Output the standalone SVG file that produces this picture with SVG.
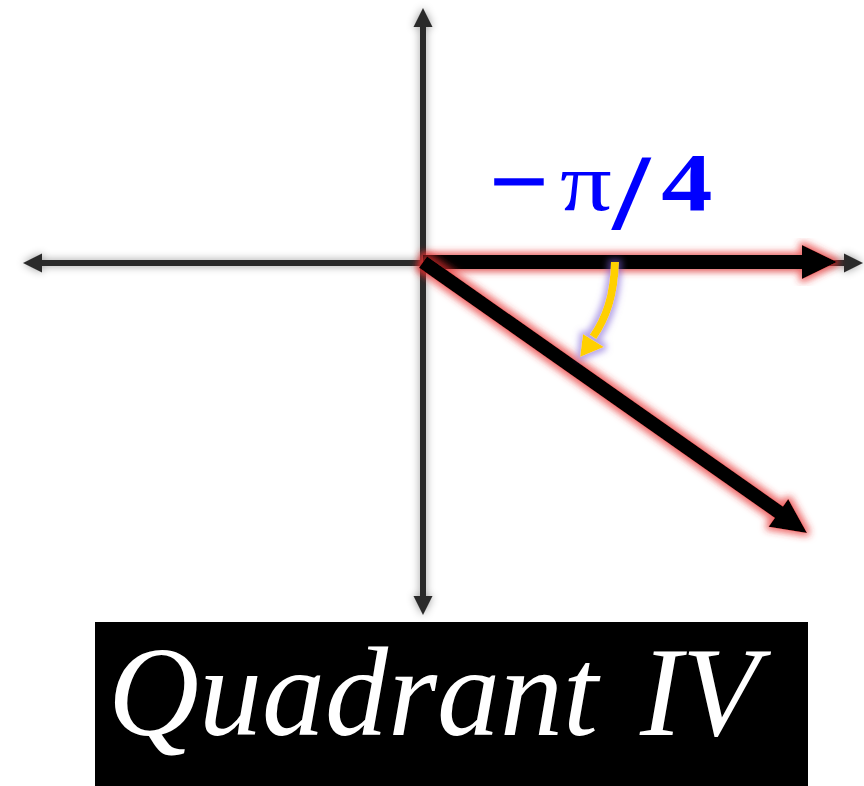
<svg xmlns="http://www.w3.org/2000/svg" width="864" height="786" viewBox="0 0 864 786">
  <defs>
    <filter id="shadow" x="-20%" y="-20%" width="140%" height="140%">
      <feGaussianBlur in="SourceAlpha" stdDeviation="4" result="b"/>
      <feFlood flood-color="#000" flood-opacity="0.4"/>
      <feComposite in2="b" operator="in" result="s"/>
      <feMerge><feMergeNode in="s"/><feMergeNode in="SourceGraphic"/></feMerge>
    </filter>
    <filter id="redglow" x="-20%" y="-20%" width="140%" height="140%">
      <feMorphology in="SourceAlpha" operator="dilate" radius="3" result="d"/>
      <feGaussianBlur in="d" stdDeviation="3.5" result="b"/>
      <feFlood flood-color="#e83030" flood-opacity="0.7"/>
      <feComposite in2="b" operator="in" result="s"/>
      <feMerge><feMergeNode in="s"/><feMergeNode in="SourceGraphic"/></feMerge>
    </filter>
    <filter id="purpleglow" x="-50%" y="-50%" width="200%" height="200%">
      <feMorphology in="SourceAlpha" operator="dilate" radius="3" result="d"/>
      <feGaussianBlur in="d" stdDeviation="3" result="b"/>
      <feFlood flood-color="#7a5cd6" flood-opacity="0.55"/>
      <feComposite in2="b" operator="in" result="s"/>
      <feMerge><feMergeNode in="s"/><feMergeNode in="SourceGraphic"/></feMerge>
    </filter>
    <style>
      .axis { stroke: #2b2b2b; stroke-width: 6; fill: none; }
      .axhead { fill: #2b2b2b; }
      .vec { stroke: #000; stroke-width: 14; fill: none; }
      .vechead { fill: #000; }
      .serif { font-family: 'Liberation Serif', 'Times New Roman', serif; }
    </style>
  </defs>
  <rect width="864" height="786" fill="#fff"/>

  <g id="axes" filter="url(#shadow)">
    <line class="axis" x1="423" y1="24" x2="423" y2="599"/>
    <polygon class="axhead" points="423,8 432.5,27 413.5,27"/>
    <polygon class="axhead" points="423,615 432.5,596 413.5,596"/>
    <line class="axis" x1="40" y1="263" x2="846" y2="263"/>
    <polygon class="axhead" points="23,263 42,253.5 42,272.5"/>
    <polygon class="axhead" points="863,263 844,253.5 844,272.5"/>
  </g>

  <g id="connectors">
    <g id="vector-initial" filter="url(#redglow)">
      <line class="vec" x1="423" y1="262" x2="805" y2="262"/>
      <polygon class="vechead" points="802,245 837,262 802,279"/>
    </g>
    <g id="vector-terminal" filter="url(#redglow)">
      <line class="vec" x1="423" y1="262" x2="780" y2="513"/>
      <polygon class="vechead" points="807,533 768.6,526.8 788.2,499"/>
    </g>
    <g id="rotation-arrow" filter="url(#purpleglow)">
      <path d="M615,262 C614,296 606,318 593,337" stroke="#FFD000" stroke-width="8" fill="none"/>
      <polygon points="580,357 583,334 604,347" fill="#FFD000"/>
    </g>
  </g>

  <g id="angle-label">
    <text class="serif" transform="translate(490,210) scale(1.25,1)" font-size="82" fill="#0000FF"><tspan x="0" y="-1" font-weight="bold" stroke="#0000FF" stroke-width="1.5">−</tspan><tspan x="56" y="0">π</tspan><tspan x="98" y="19" font-size="108" font-weight="bold">/</tspan><tspan x="137" y="0" font-weight="bold">4</tspan></text>
  </g>

  <g id="title">
    <rect x="95" y="622" width="713" height="164" fill="#000"/>
    <text class="serif" x="108" y="735" font-style="italic" font-size="126" fill="#fff"><tspan x="108">Quadrant</tspan> <tspan x="640">IV</tspan></text>
  </g>
</svg>
